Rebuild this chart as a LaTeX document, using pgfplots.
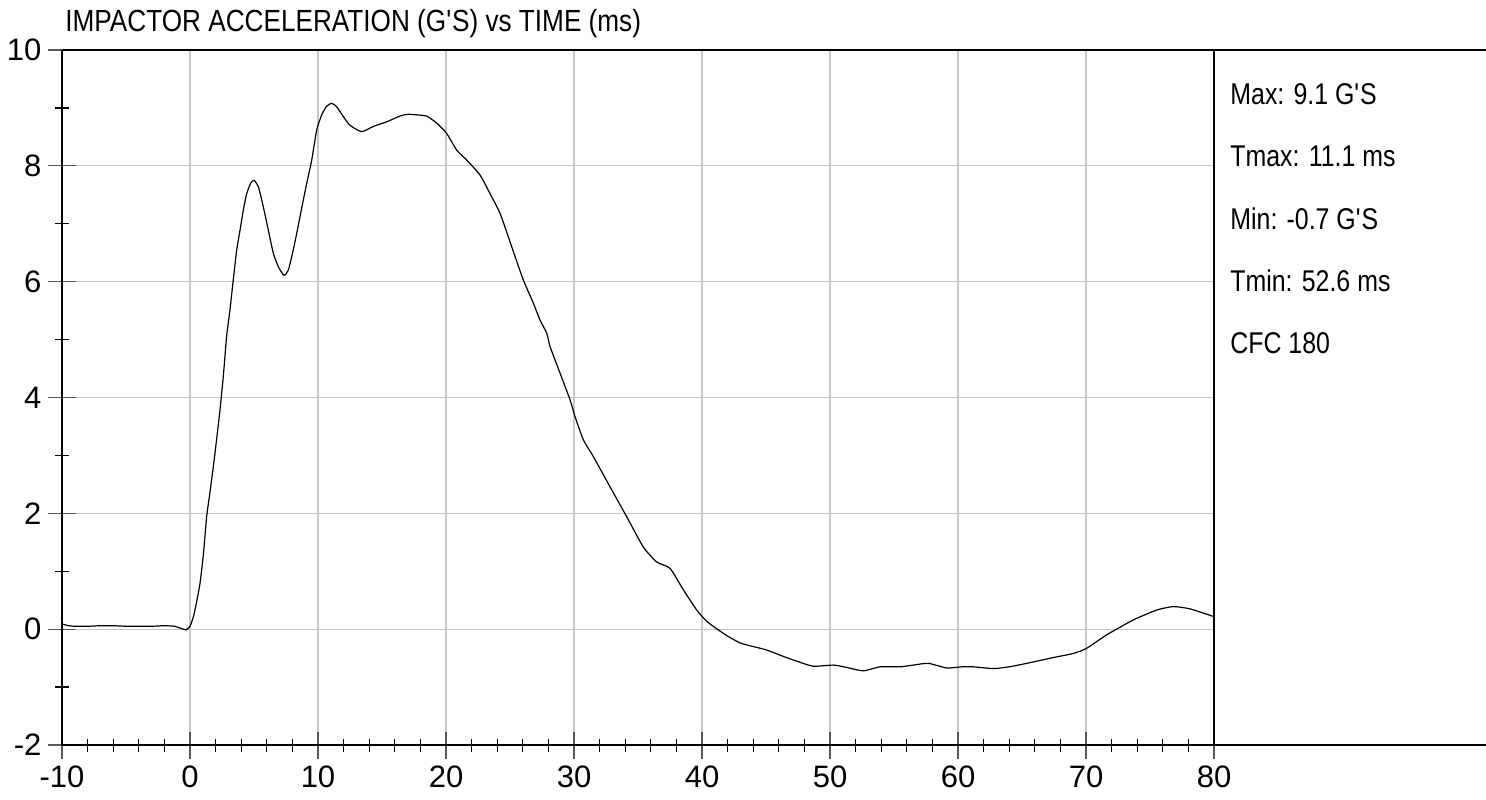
\documentclass[border=0pt]{standalone}
\usepackage{fontspec}
\setmainfont{Liberation Sans}
\newfontfamily\narrowfont{Liberation Sans}[FakeStretch=0.855]
\newfontfamily\annfont{Liberation Sans}[FakeStretch=0.83]
\usepackage{pgfplots}
\pgfplotsset{compat=1.18}
\begin{document}
\begin{tikzpicture}
\path[use as bounding box] (-31pt,-27pt) rectangle (712pt,372.5pt);
\begin{axis}[
  name=ax, at={(0,0)}, anchor=south west,
  scale only axis, width=576pt, height=347.5pt,
  xmin=-10, xmax=80, ymin=-2, ymax=10,
  axis x line*=bottom, axis y line*=left,
  x axis line style={line width=0.6pt, black},
  y axis line style={line width=1.1pt, black},
  xtick={-10,0,...,80}, ytick={-2,0,...,10},
  xticklabels={-10,0,10,20,30,40,50,60,70,80},
  yticklabels={-2,0,2,4,6,8,10},
  minor x tick num=4, minor y tick num=1,
  tick align=center,
  major tick length=13.5pt, minor tick length=6.5pt,
  major tick style={line width=0.6pt, black!65},
  minor tick style={line width=0.6pt, black},
  grid=major, major grid style={line width=0.55pt, black!22},
  tick label style={font=\fontsize{15.5pt}{18pt}\selectfont},
]
\addplot[black, line width=0.6pt, smooth, tension=0.35] coordinates {
(-10,0.09) (-9.5,0.06) (-9,0.05) (-8,0.05) (-7,0.06) (-6,0.06) (-5,0.05) (-4,0.05)
(-3,0.05) (-2,0.06) (-1.2,0.05) (-0.8,0.02) (-0.3,-0.01) (0,0.05) (0.26,0.21)
(0.5,0.45) (0.78,0.79) (1.05,1.3) (1.3,1.94) (1.55,2.35) (1.82,2.80) (2.08,3.28)
(2.34,3.78) (2.60,4.36) (2.86,5.05) (3.12,5.51) (3.38,6.03) (3.65,6.55) (3.91,6.89)
(4.17,7.24) (4.43,7.52) (4.74,7.70) (5.0,7.75) (5.34,7.64) (5.73,7.29) (6.12,6.89)
(6.51,6.49) (6.90,6.26) (7.34,6.11) (7.68,6.20) (8.07,6.55) (8.46,6.97) (8.85,7.41)
(9.2,7.78) (9.51,8.10) (9.90,8.62) (10.29,8.88) (10.68,9.03) (11.07,9.08) (11.46,9.02)
(11.98,8.85) (12.5,8.70) (13.41,8.59) (14.32,8.68) (15.36,8.76) (16.41,8.86) (17.06,8.89)
(18.23,8.87) (18.49,8.86) (19.27,8.74) (20.05,8.56) (20.84,8.27) (21.62,8.10) (22.66,7.84)
(23.44,7.52) (24.22,7.18) (25.0,6.69) (25.26,6.52) (26.04,6.03) (26.82,5.63) (27.34,5.34)
(27.87,5.11) (28.13,4.88) (28.91,4.42) (29.69,3.96) (30.08,3.67) (30.73,3.27) (31.51,2.98)
(32.81,2.46) (34.12,1.94) (35.41,1.42) (36.46,1.16) (37.5,1.05) (38.54,0.68) (39.59,0.33)
(40.3,0.15) (41.0,0.03) (42.0,-0.12) (43.0,-0.24) (44.0,-0.30) (45.05,-0.36) (46.35,-0.47)
(47.5,-0.56) (48.70,-0.64) (50.26,-0.62) (51.3,-0.66) (52.6,-0.72) (53.9,-0.65) (55.47,-0.65)
(56.5,-0.62) (57.68,-0.59) (59.12,-0.67) (60.3,-0.65) (61.2,-0.65) (62.76,-0.68) (64.0,-0.65)
(65.37,-0.59) (67.45,-0.49) (69.0,-0.42) (70.05,-0.33) (71.6,-0.10) (73.70,0.16) (75.52,0.33)
(76.82,0.39) (78.13,0.35) (79.95,0.22)
};
\end{axis}
\draw[line width=0.6pt] (0,347.5pt) -- (712pt,347.5pt);
\draw[line width=0.6pt] (576pt,0) -- (712pt,0);
\draw[line width=0.7pt] (576pt,0) -- (576pt,347.5pt);
\node[anchor=base west, inner sep=0pt, font=\narrowfont\fontsize{15.3pt}{18pt}\selectfont]
  at (1.5pt,356.5pt) {IMPACTOR ACCELERATION (G\textquotesingle S) vs TIME (ms)};
\begin{scope}[every node/.style={anchor=base west, inner sep=0pt, font=\annfont\fontsize{15pt}{18pt}\selectfont}]
\node at (584pt,320pt) {Max: 9.1 G\textquotesingle S};
\node at (584pt,289pt) {Tmax: 11.1 ms};
\node at (584pt,258pt) {Min: -0.7 G\textquotesingle S};
\node at (584pt,227pt) {Tmin: 52.6 ms};
\node at (584pt,196pt) {CFC 180};
\end{scope}
\end{tikzpicture}
\end{document}
